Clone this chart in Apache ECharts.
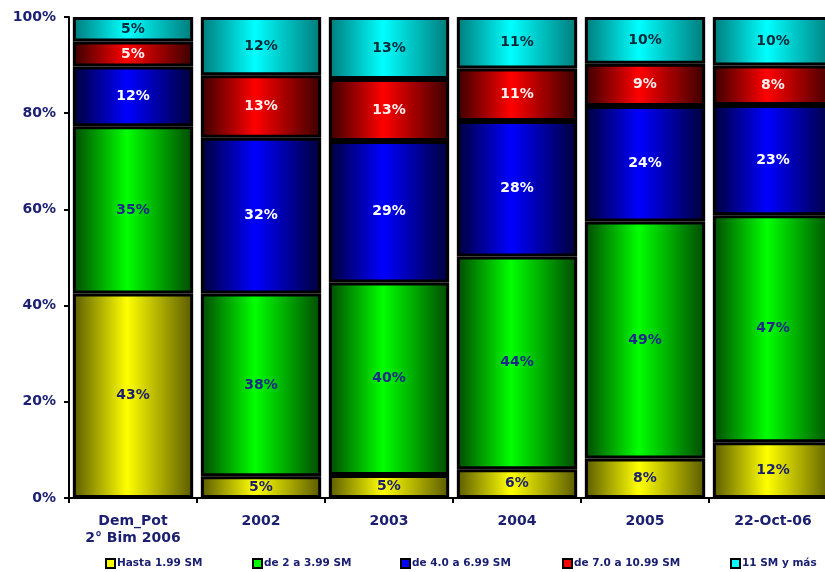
<!DOCTYPE html>
<html>
<head>
<meta charset="utf-8">
<script src="https://cdn.jsdelivr.net/npm/echarts@6/dist/echarts.min.js"></script>
<style>html,body{margin:0;padding:0;background:#fff;overflow:hidden}#c{width:825px;height:572px}</style>
</head>
<body>
<div id="c"></div>
<script>
const categories = ['Dem_Pot\n2° Bim 2006', '2002', '2003', '2004', '2005', '22-Oct-06'];
const seriesNames = ['Hasta 1.99 SM', 'de 2 a 3.99 SM', 'de 4.0 a 6.99 SM', 'de 7.0 a 10.99 SM', '11 SM y más'];
const hasta199 = [42.5, 4.5, 4.8, 6.0, 8.2, 11.6];
const de2a399 = [34.8, 38.0, 40.0, 44.2, 49.3, 47.2];
const de4a699 = [12.4, 32.4, 29.4, 28.2, 24.0, 22.9];
const de7a1099 = [5.2, 13.0, 12.9, 10.9, 8.8, 8.2];
const sm11ymas = [5.1, 12.1, 12.9, 10.7, 9.7, 10.1];
const yTicks = [0, 20, 40, 60, 80, 100];

const values = [hasta199, de2a399, de4a699, de7a1099, sm11ymas];
const solid = ['#ffff00', '#00ff00', '#0000ff', '#ff0000', '#00ffff'];
const dark = ['#5a5a00', '#004a00', '#00003a', '#3a0000', '#007a7a'];
const labelColors = ['#1c1f6e', '#1c2a8a', '#ffffff', '#fff0f0', '#0a2a3a'];
const navy = '#1c2070';
const font = 'DejaVu Sans';

function grad(i) {
  return new echarts.graphic.LinearGradient(0, 0, 1, 0, [
    {offset: 0, color: dark[i]},
    {offset: 0.45, color: solid[i]},
    {offset: 1, color: dark[i]}
  ]);
}

const series = seriesNames.map((name, i) => ({
  name: name,
  type: 'bar',
  stack: 'total',
  barCategoryGap: '6%',
  data: values[i],
  itemStyle: {color: grad(i), borderColor: '#000', borderWidth: 3},
  label: {
    show: true,
    position: 'inside',
    formatter: p => Math.round(p.value) + '%',
    color: labelColors[i],
    fontFamily: font,
    fontWeight: 'bold',
    fontSize: 14
  }
}));

const legendX = [100, 247, 395, 557, 725];
const legends = seriesNames.map((name, i) => ({
  data: [{name: name, itemStyle: {color: solid[i], borderColor: '#000', borderWidth: 2}}],
  left: legendX[i],
  top: 553,
  icon: 'rect',
  itemWidth: 9,
  itemHeight: 9,
  itemGap: 2,
  selectedMode: false,
  textStyle: {color: navy, fontFamily: font, fontWeight: 'bold', fontSize: 10.5, padding: [0, 0, 0, -3]}
}));

const chart = echarts.init(document.getElementById('c'));
chart.setOption({
  animation: false,
  backgroundColor: '#fff',
  legend: legends,
  grid: {left: 69, top: 17, right: -12, bottom: 74, outerBoundsMode: 'none', containLabel: false},
  xAxis: {
    type: 'category',
    data: categories,
    axisLine: {lineStyle: {color: '#000', width: 2}},
    axisTick: {show: true, length: 5, lineStyle: {color: '#000', width: 2}},
    axisLabel: {color: navy, fontFamily: font, fontWeight: 'bold', fontSize: 14, margin: 15, lineHeight: 17, interval: 0}
  },
  yAxis: {
    type: 'value',
    min: 0,
    max: 100,
    interval: 20,
    axisLine: {show: true, lineStyle: {color: '#000', width: 2}},
    axisTick: {show: true, length: 5, lineStyle: {color: '#000', width: 2}},
    splitLine: {show: false},
    axisLabel: {
      color: navy, fontFamily: font, fontWeight: 'bold', fontSize: 14, margin: 13,
      formatter: v => yTicks.indexOf(v) >= 0 ? v + '%' : ''
    }
  },
  series: series
});
</script>
</body>
</html>
